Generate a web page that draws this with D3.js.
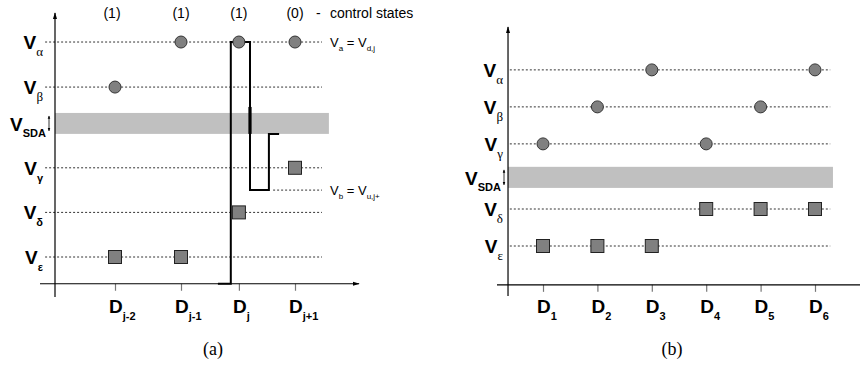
<!DOCTYPE html>
<html>
<head>
<meta charset="utf-8">
<script src="https://cdn.jsdelivr.net/npm/d3@7"></script>
<style>
  body { margin: 0; background: #fff; }
  svg { display: block; font-family: "Liberation Sans", Arial, sans-serif; }
</style>
</head>
<body>
<svg id="chart" width="860" height="369"></svg>
<script>
// ---- panel (a) data ----
const ctrlStates = ["(1)", "(1)", "(1)", "(0)"];
const dSubA = ["j-2", "j-1", "j", "j+1"];
const dPosA = [20, 42, 61.3, 80];              // position along the D axis (0..100)
const levelSubA = ["α", "β", "γ", "δ", "ε"];
const levelValA = [4.82, 3.81, 2, 1, 0];
const sdaA = [2.76, 3.23];
const circA = [[1, "α"], [2, "α"], [3, "α"], [0, "β"]];   // [D index, level]
const sqA = [[0, "ε"], [1, "ε"], [2, "δ"], [3, "γ"]];
const vbA = 1.5;
const waveA = [[54.3, -0.6], [58.6, -0.6], [58.6, 4.82], [65, 4.82], [65, 1.5],
               [71.3, 1.5], [71.3, 2.76], [74.7, 2.76]];

// ---- panel (b) data ----
const dSubB = ["1", "2", "3", "4", "5", "6"];
const dPosB = [1, 2, 3, 4, 5, 6];
const levelSubB = ["α", "β", "γ", "δ", "ε"];
const levelValB = [4.76, 3.76, 2.76, 1, 0];
const sdaB = [1.57, 2.14];
const circB = [[2, "α"], [5, "α"], [1, "β"], [4, "β"], [0, "γ"], [3, "γ"]];
const sqB = [[3, "δ"], [4, "δ"], [5, "δ"], [0, "ε"], [1, "ε"], [2, "ε"]];

const svg = d3.select("#chart");

// scales
const xA = d3.scaleLinear().domain([0, 100]).range([55, 355]);
const yA = d3.scaleLinear().domain([0, 5]).range([257, 34]);
const xB = d3.scaleLinear().domain([1, 6]).range([543, 815]);
const yB = d3.scaleLinear().domain([0, 1]).range([246, 209]);

const defs = svg.append("defs");
defs.append("marker").attr("id", "arr").attr("viewBox", "0 0 10 10")
    .attr("refX", 9).attr("refY", 5).attr("markerWidth", 6).attr("markerHeight", 6)
    .attr("orient", "auto-start-reverse")
  .append("path").attr("d", "M0,2 L10,5 L0,8 Z").attr("fill", "#000");
defs.append("marker").attr("id", "sarr").attr("viewBox", "0 0 10 10")
    .attr("refX", 9).attr("refY", 5).attr("markerWidth", 4).attr("markerHeight", 4)
    .attr("orient", "auto-start-reverse")
  .append("path").attr("d", "M0,1 L10,5 L0,9 Z").attr("fill", "#000");

function panel(o) {
  const g = svg.append("g");
  const {x, y} = o;
  const lv = name => o.levelVal[o.levelSub.indexOf(name)];

  // SDA band
  g.append("rect")
      .attr("x", x(o.x0)).attr("width", x(o.bandEnd) - x(o.x0))
      .attr("y", y(o.sda[1])).attr("height", y(o.sda[0]) - y(o.sda[1]))
      .attr("fill", "#c0c0c0");

  // dotted level lines
  g.selectAll(".lvl").data(o.levelVal).join("line")
      .attr("x1", x(o.dotStart)).attr("x2", x(o.dotEnd))
      .attr("y1", d => y(d)).attr("y2", d => y(d))
      .attr("stroke", "#333").attr("stroke-width", 1).attr("stroke-dasharray", "2,2");

  // ticks via d3 axis
  const ax = g.append("g").attr("transform", `translate(0,${y(o.axisV)})`)
      .call(d3.axisBottom(x).tickValues(o.dPos).tickSize(7).tickFormat(""));
  ax.select(".domain").remove();
  ax.selectAll(".tick line").attr("stroke", "#777").attr("stroke-width", 1.2);

  // axes lines
  g.append("line").attr("x1", o.axX0).attr("x2", o.axX1)
      .attr("y1", y(o.axisV)).attr("y2", y(o.axisV))
      .attr("stroke", "#000").attr("stroke-width", 1.2)
      .attr("marker-end", o.xArrow ? "url(#arr)" : null);
  g.append("line").attr("x1", x(o.x0)).attr("x2", x(o.x0))
      .attr("y1", o.axY1).attr("y2", o.axY0)
      .attr("stroke", "#000").attr("stroke-width", 1.2)
      .attr("marker-end", "url(#arr)");

  // level labels
  const lbl = g.selectAll(".vl").data(o.levelSub).join("text")
      .attr("x", o.lblX).attr("y", (d, i) => y(o.levelVal[i]) + 7)
      .attr("text-anchor", "end");
  lbl.append("tspan").text("V").attr("font-weight", "bold").attr("font-size", 19);
  lbl.append("tspan").text(d => d).attr("dy", 7)
      .attr("font-size", d => o.serifSub.includes(d) ? 13 : 11)
      .attr("font-weight", d => o.serifSub.includes(d) ? "normal" : "bold")
      .attr("font-family", d => o.serifSub.includes(d) ? "'Liberation Serif', 'DejaVu Serif', serif" : null);

  // V_SDA label
  const sm = (o.sda[0] + o.sda[1]) / 2;
  const sl = g.append("text").attr("x", o.sdaLblX).attr("y", y(sm) + 8).attr("text-anchor", "end");
  sl.append("tspan").text("V").attr("font-weight", "bold").attr("font-size", 19);
  sl.append("tspan").text("SDA").attr("dy", 6).attr("font-weight", "bold").attr("font-size", 11);
  g.append("line").attr("x1", o.sdaArrX).attr("x2", o.sdaArrX)
      .attr("y1", y(o.sda[1]) + 3).attr("y2", y(o.sda[0]) - 3)
      .attr("stroke", "#000").attr("stroke-width", 0.8)
      .attr("marker-start", "url(#sarr)").attr("marker-end", "url(#sarr)");

  // D labels
  const dl = g.selectAll(".dl").data(o.dSub).join("text")
      .attr("x", (d, i) => x(o.dPos[i]) - 6).attr("y", 313);
  dl.append("tspan").text("D").attr("font-weight", "bold").attr("font-size", 19);
  dl.append("tspan").text(d => d).attr("dy", 7).attr("font-weight", "bold").attr("font-size", 11);

  // caption
  g.append("text").attr("x", o.capX).attr("y", 355).attr("text-anchor", "middle")
      .attr("font-family", "'Liberation Serif', 'DejaVu Serif', serif").attr("font-size", 18)
      .text(o.caption);

  return {g, lv};
}

// ---------- panel (a) ----------
const pa = panel({
  x: xA, y: yA, levelSub: levelSubA, levelVal: levelValA, sda: sdaA,
  dPos: dPosA, dSub: dSubA, x0: 0, bandEnd: 91.3, dotStart: -3.3, dotEnd: 89,
  axisV: -0.6, axX0: 40, axX1: 359, xArrow: true, axY0: 13, axY1: 297,
  lblX: 43, sdaLblX: 46, sdaArrX: 49, serifSub: ["α", "β"], capX: 213, caption: "(a)"
});

// Vb reference line
pa.g.append("line").attr("x1", xA(72.7)).attr("x2", xA(89))
    .attr("y1", yA(vbA)).attr("y2", yA(vbA))
    .attr("stroke", "#333").attr("stroke-width", 1).attr("stroke-dasharray", "2,2");

// waveform
pa.g.append("path")
    .attr("d", d3.line().x(d => xA(d[0])).y(d => yA(d[1]))(waveA))
    .attr("fill", "none").attr("stroke", "#000").attr("stroke-width", 2);
pa.g.append("line").attr("x1", xA(65)).attr("x2", xA(65))
    .attr("y1", yA(sdaA[1]) - 6).attr("y2", yA(sdaA[0]))
    .attr("stroke", "#000").attr("stroke-width", 3.2);

// markers (a)
pa.g.selectAll(".c").data(circA).join("circle")
    .attr("cx", d => xA(dPosA[d[0]])).attr("cy", d => yA(pa.lv(d[1]))).attr("r", 6)
    .attr("fill", "#808080").attr("stroke", "#333").attr("stroke-width", 1);
pa.g.selectAll(".s").data(sqA).join("rect")
    .attr("x", d => xA(dPosA[d[0]]) - 6.5).attr("y", d => yA(pa.lv(d[1])) - 6.5)
    .attr("width", 13).attr("height", 13)
    .attr("fill", "#808080").attr("stroke", "#222").attr("stroke-width", 1);

// control states
pa.g.selectAll(".cs").data(ctrlStates).join("text")
    .attr("x", (d, i) => xA(dPosA[i]) - (i === 0 ? 3 : 0)).attr("y", 18)
    .attr("text-anchor", "middle").attr("font-size", 14).text(d => d);
pa.g.append("text").attr("x", 316).attr("y", 18).attr("font-size", 14).text("-");
pa.g.append("text").attr("x", 330).attr("y", 18).attr("font-size", 14).text("control states");

// V_a = V_d,j and V_b = V_u,j+
function eqLabel(yv, a, b) {
  const t = pa.g.append("text").attr("x", 330).attr("y", yv + 5).attr("font-size", 13);
  t.append("tspan").text("V");
  t.append("tspan").text(a).attr("font-size", 8).attr("dy", 4);
  t.append("tspan").text(" = V").attr("dy", -4);
  t.append("tspan").text(b).attr("font-size", 8).attr("dy", 4);
}
eqLabel(yA(levelValA[0]), "a", "d,j");
eqLabel(yA(vbA), "b", "u,j+");

// ---------- panel (b) ----------
const pb = panel({
  x: xB, y: yB, levelSub: levelSubB, levelVal: levelValB, sda: sdaB,
  dPos: dPosB, dSub: dSubB, x0: 0.357, bandEnd: 6.33, dotStart: 0.39, dotEnd: 6.28,
  axisV: -1.05, axX0: 497, axX1: 860, xArrow: false, axY0: 27, axY1: 296,
  lblX: 503, sdaLblX: 501, sdaArrX: 504, serifSub: ["α", "β", "γ", "δ", "ε"], capX: 672, caption: "(b)"
});

pb.g.selectAll(".c").data(circB).join("circle")
    .attr("cx", d => xB(dPosB[d[0]])).attr("cy", d => yB(pb.lv(d[1]))).attr("r", 6)
    .attr("fill", "#808080").attr("stroke", "#333").attr("stroke-width", 1);
pb.g.selectAll(".s").data(sqB).join("rect")
    .attr("x", d => xB(dPosB[d[0]]) - 6.5).attr("y", d => yB(pb.lv(d[1])) - 6.5)
    .attr("width", 13).attr("height", 13)
    .attr("fill", "#808080").attr("stroke", "#222").attr("stroke-width", 1);
</script>
</body>
</html>
